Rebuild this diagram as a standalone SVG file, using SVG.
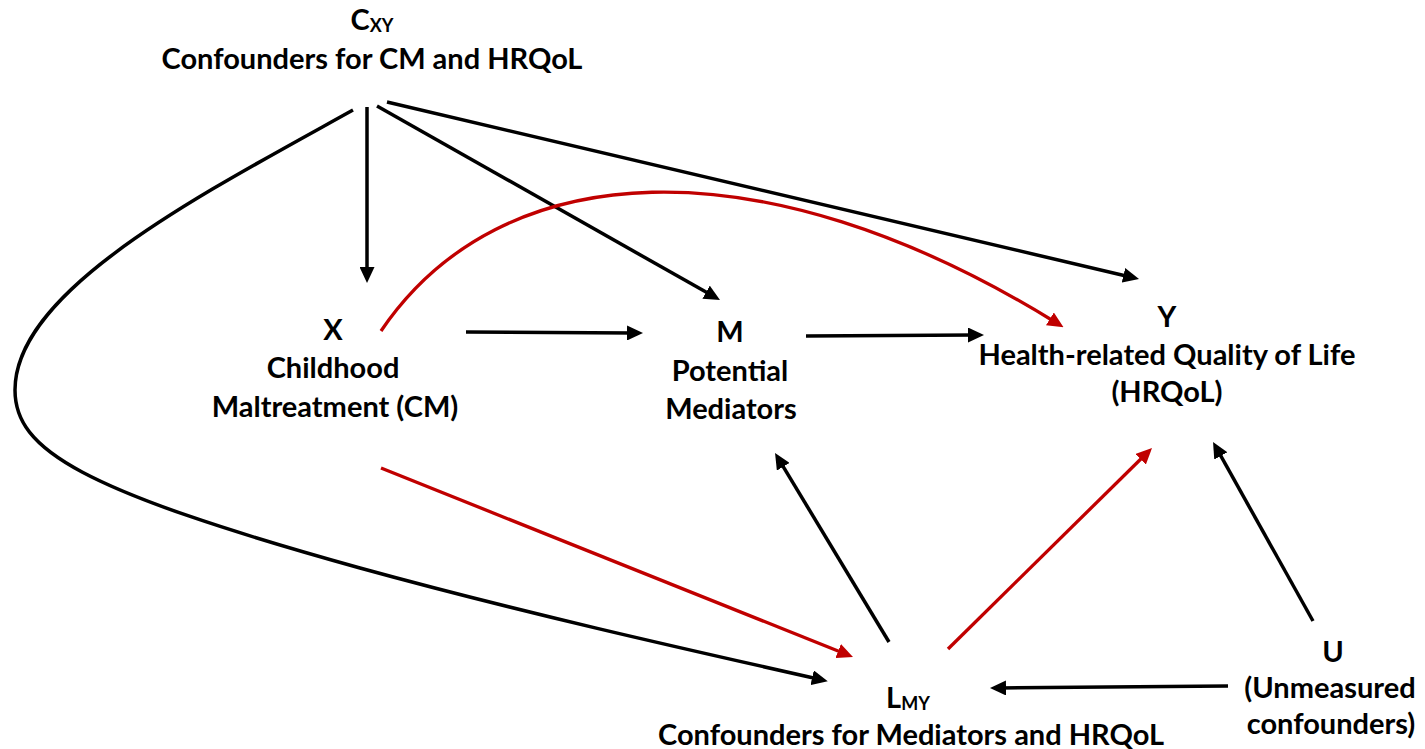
<svg xmlns="http://www.w3.org/2000/svg" width="1425" height="749" viewBox="0 0 1425 749">
<defs>
<style>
.t{font-family:Lato,"Liberation Sans",sans-serif;font-weight:bold;font-size:29px;fill:#000;text-anchor:middle}
.s{font-size:18px}
.k{fill:none;stroke:#000;stroke-width:3.5}
.r{fill:none;stroke:#C00000;stroke-width:3.3}
</style>
<marker id="ab" markerUnits="userSpaceOnUse" markerWidth="16" markerHeight="15" refX="6" refY="7.5" orient="auto"><path d="M0,0 L16,7.5 L0,15 z" fill="#000"/></marker>
<marker id="ar" markerUnits="userSpaceOnUse" markerWidth="16" markerHeight="15" refX="6" refY="7.5" orient="auto"><path d="M0,0 L16,7.5 L0,15 z" fill="#C00000"/></marker>
</defs>
<rect width="1425" height="749" fill="#fff"/>
<g id="connectors">
<path class="k" d="M367,107 L367,273" marker-end="url(#ab)"/>
<path class="k" d="M377,106 L711.3,295.1" marker-end="url(#ab)"/>
<path class="k" d="M387,102 L1129.3,276.7" marker-end="url(#ab)"/>
<path class="k" d="M353,110 C200,195 15,290 15,390 C15,450 80,490 360,568 C520,612 680,648 818,679" marker-end="url(#ab)"/>
<path class="r" d="M381,331 C500,155 760,140 1055,322" marker-end="url(#ar)"/>
<path class="k" d="M466,332 L633,333" marker-end="url(#ab)"/>
<path class="k" d="M806,336 L974,335" marker-end="url(#ab)"/>
<path class="r" d="M381,468 L843.7,653.3" marker-end="url(#ar)"/>
<path class="k" d="M889,642 L780.2,461.6" marker-end="url(#ab)"/>
<path class="r" d="M948,649 L1144.9,455" marker-end="url(#ar)"/>
<path class="k" d="M1313,621 L1217.9,450.7" marker-end="url(#ab)"/>
<path class="k" d="M1228,686 L1000,688" marker-end="url(#ab)"/>
</g>
<g id="node-cxy">
<text class="t" x="372" y="30">C<tspan class="s" dy="2">XY</tspan></text>
<text class="t" x="372" y="69">Confounders for CM and HRQoL</text>
</g>
<g id="node-x">
<text class="t" x="333" y="340">X</text>
<text class="t" x="333" y="378">Childhood</text>
<text class="t" x="335" y="417">Maltreatment (CM)</text>
</g>
<g id="node-m">
<text class="t" x="730" y="342">M</text>
<text class="t" x="730" y="381">Potential</text>
<text class="t" x="731" y="419">Mediators</text>
</g>
<g id="node-y">
<text class="t" x="1167" y="327">Y</text>
<text class="t" x="1167" y="365">Health-related Quality of Life</text>
<text class="t" x="1167" y="402">(HRQoL)</text>
</g>
<g id="node-lmy">
<text class="t" x="908" y="708">L<tspan class="s" dy="2">MY</tspan></text>
<text class="t" x="911" y="745">Confounders for Mediators and HRQoL</text>
</g>
<g id="node-u">
<text class="t" x="1333" y="662">U</text>
<text class="t" x="1330" y="698">(Unmeasured</text>
<text class="t" x="1331" y="734">confounders)</text>
</g>
</svg>
